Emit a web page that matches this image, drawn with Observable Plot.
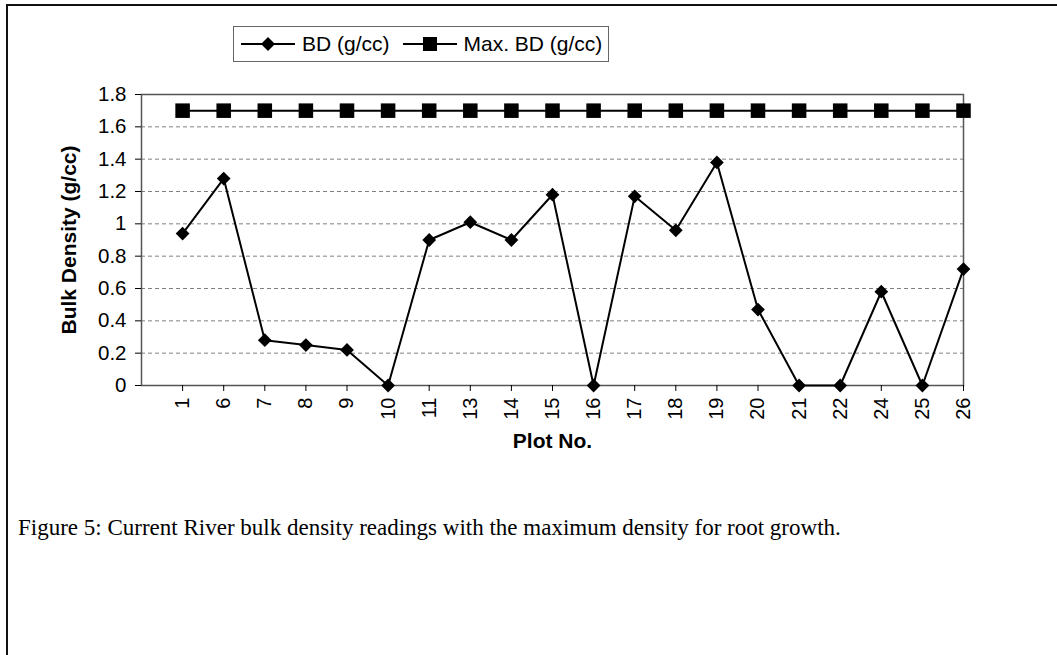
<!DOCTYPE html>
<html>
<head>
<meta charset="utf-8">
<script src="https://cdn.jsdelivr.net/npm/d3@7"></script>
<script src="https://cdn.jsdelivr.net/npm/@observablehq/plot@0.6"></script>
<style>
  html, body { margin: 0; padding: 0; background: #fff; }
  #page { position: relative; width: 1057px; height: 655px; overflow: hidden; }
  #frame { position: absolute; left: 6px; top: 4px; width: 1060px; height: 700px;
           border-left: 2px solid #111; border-top: 2px solid #111; box-sizing: border-box; }
  #chart { position: absolute; left: 0; top: 0; }
  #chart svg [aria-label$="tick label"] text { font-size: 20px; }
  #chart svg [aria-label="y-axis tick label"] text { font-size: 20.5px; }
  #chart svg [aria-label$="axis label"] text { font-size: 21px; font-weight: bold; }
  #legend { position: absolute; left: 233px; top: 26px; width: 376px; height: 36px; box-sizing: border-box;
            border: 1px solid #666; font-family: "Liberation Sans", Arial, sans-serif; font-size: 21px;
            display: flex; align-items: center; padding-left: 6px; background: #fff; white-space: nowrap; }
  #legend .item { display: flex; align-items: center; margin-right: 12px; }
  #legend svg { margin-right: 6px; }
  #caption { position: absolute; left: 18px; top: 515px; font-family: "Liberation Serif", "Times New Roman", serif;
             font-size: 23px; color: #000; white-space: nowrap; }
</style>
</head>
<body>
<div id="page">
  <div id="frame"></div>
  <div id="chart"></div>
  <div id="legend"></div>
  <div id="caption">Figure 5: Current River bulk density readings with the maximum density for root growth.</div>
</div>
<script>
const plots = ["1","6","7","8","9","10","11","13","14","15","16","17","18","19","20","21","22","24","25","26"];
const bd    = [0.94,1.28,0.28,0.25,0.22,0,0.90,1.01,0.90,1.18,0,1.17,0.96,1.38,0.47,0,0,0.58,0,0.72];
const maxBD = [1.7,1.7,1.7,1.7,1.7,1.7,1.7,1.7,1.7,1.7,1.7,1.7,1.7,1.7,1.7,1.7,1.7,1.7,1.7,1.7];
const yTicks = [0,0.2,0.4,0.6,0.8,1,1.2,1.4,1.6,1.8];
const gridTicks = [0.2,0.4,0.6,0.8,1,1.2,1.4,1.6];
const seriesNames = ["BD (g/cc)", "Max. BD (g/cc)"];

const rows = plots.map((p, i) => ({i, plot: p, bd: bd[i], max: maxBD[i]}));

const chart = Plot.plot({
  width: 1057,
  height: 470,
  marginLeft: 141,
  marginRight: 94,
  marginTop: 94,
  marginBottom: 85,
  style: {fontFamily: "'Liberation Sans', Arial, sans-serif", fontSize: "20px", color: "#000", background: "transparent"},
  x: {domain: [-1, plots.length - 1]},
  y: {domain: [0, 1.8]},
  marks: [
    Plot.gridY(gridTicks, {stroke: "#555", strokeOpacity: 0.75, strokeDasharray: "4,3", strokeWidth: 1}),
    Plot.frame({stroke: "#555", strokeWidth: 1.5}),
    Plot.axisY({ticks: yTicks, tickFormat: d => String(+d.toFixed(1)), tickSize: 6, tickPadding: 9,
      label: "Bulk Density (g/cc)", labelAnchor: "center", labelArrow: "none", labelOffset: 80}),
    Plot.axisX({ticks: d3.range(plots.length), tickFormat: i => plots[i], tickSize: 6, tickPadding: 6,
      tickRotate: -90, label: "Plot No.", labelAnchor: "center", labelArrow: "none", labelOffset: 62}),
    Plot.line(rows, {x: "i", y: "max", stroke: "#000", strokeWidth: 2}),
    Plot.dot(rows, {x: "i", y: "max", symbol: "square", r: 8.2, fill: "#000", stroke: "none"}),
    Plot.line(rows, {x: "i", y: "bd", stroke: "#000", strokeWidth: 2}),
    Plot.dot(rows, {x: "i", y: "bd", symbol: "diamond2", r: 6.2, fill: "#000", stroke: "none"})
  ]
});
document.getElementById("chart").appendChild(chart);

// legend
const legend = document.getElementById("legend");
seriesNames.forEach((name, k) => {
  const item = document.createElement("div");
  item.className = "item";
  const marker = k === 0
    ? `<path d="M28,9 L35,16 L28,23 L21,16 Z" fill="#000"/>`
    : `<rect x="21" y="9" width="14" height="14" fill="#000"/>`;
  item.innerHTML = `<svg width="56" height="32"><line x1="1" y1="16" x2="55" y2="16" stroke="#000" stroke-width="2"/>${marker}</svg><span>${name}</span>`;
  legend.appendChild(item);
});
</script>
</body>
</html>
